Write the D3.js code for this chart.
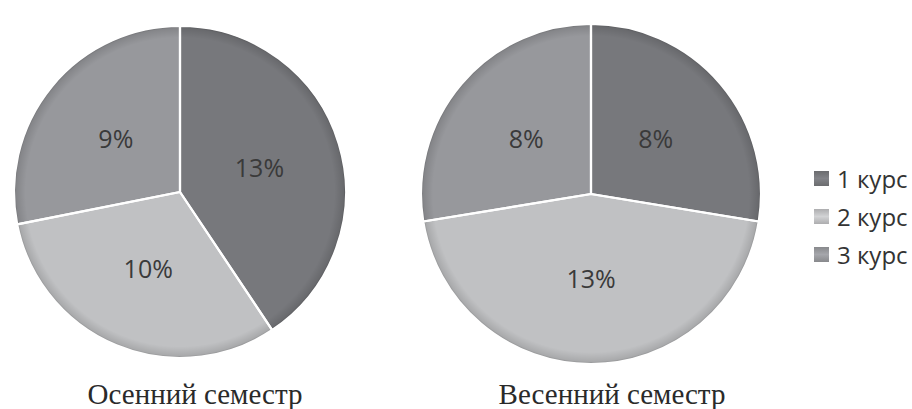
<!DOCTYPE html>
<html>
<head>
<meta charset="utf-8">
<script src="https://cdn.jsdelivr.net/npm/d3@7"></script>
<style>
  html, body { margin: 0; padding: 0; background: #fff; }
  svg { display: block; }
</style>
</head>
<body>
<svg id="chart" width="912" height="409"></svg>
<script>
// Share of students by year of study, per semester (%)
const courses = ["1 курс", "2 курс", "3 курс"];
const autumnValues = [13, 10, 9];
const springValues = [8, 13, 8];
const semesterTitles = ["Осенний семестр", "Весенний семестр"];
const sliceColors = ["#77787c", "#c0c1c3", "#97989c"];

const svg = d3.select("#chart");
const defs = svg.append("defs");

// Darkening toward the rim for a soft bevelled look
const rim = defs.append("radialGradient").attr("id", "rimShade")
  .attr("cx", "50%").attr("cy", "50%").attr("r", "50%");
rim.append("stop").attr("offset", "0%").attr("stop-color", "#000").attr("stop-opacity", 0);
rim.append("stop").attr("offset", "93%").attr("stop-color", "#000").attr("stop-opacity", 0);
rim.append("stop").attr("offset", "98.5%").attr("stop-color", "#000").attr("stop-opacity", 0.12);
rim.append("stop").attr("offset", "100%").attr("stop-color", "#000").attr("stop-opacity", 0.3);

// Legend swatch gradient
courses.forEach((c, i) => {
  const g = defs.append("linearGradient").attr("id", "sw" + i)
    .attr("x1", 0).attr("y1", 0).attr("x2", 0).attr("y2", 1);
  g.append("stop").attr("offset", "0%").attr("stop-color", d3.color(sliceColors[i]).darker(0.3));
  g.append("stop").attr("offset", "50%").attr("stop-color", d3.color(sliceColors[i]).brighter(0.25));
  g.append("stop").attr("offset", "100%").attr("stop-color", d3.color(sliceColors[i]).darker(0.3));
});

const color = d3.scaleOrdinal().domain(courses).range(sliceColors);

const pie = d3.pie().sort(null).value(d => d.value).startAngle(0).endAngle(2 * Math.PI);

const charts = [
  { values: autumnValues, title: semesterTitles[0], cx: 180, cy: 192, r: 166, tx: 195 },
  { values: springValues, title: semesterTitles[1], cx: 591, cy: 194, r: 170, tx: 612 }
];

charts.forEach(ch => {
  const data = courses.map((c, i) => ({ course: c, value: ch.values[i] }));
  const arcs = pie(data);
  const arc = d3.arc().innerRadius(0).outerRadius(ch.r);
  const g = svg.append("g").attr("transform", `translate(${ch.cx},${ch.cy})`);

  g.selectAll("path.slice").data(arcs).enter().append("path")
    .attr("class", "slice")
    .attr("d", arc)
    .attr("fill", d => color(d.data.course));

  // rim shading over the whole disc
  g.append("circle").attr("r", ch.r).attr("fill", "url(#rimShade)");

  // separators between slices
  g.selectAll("path.sep").data(arcs).enter().append("path")
    .attr("class", "sep")
    .attr("d", arc)
    .attr("fill", "none")
    .attr("stroke", "#fff")
    .attr("stroke-width", 2.2)
    .attr("stroke-linejoin", "round");
  g.append("circle").attr("r", ch.r + 1).attr("fill", "none")
    .attr("stroke", "#fff").attr("stroke-width", 2.2);

  g.selectAll("text.lbl").data(arcs).enter().append("text")
    .attr("class", "lbl")
    .attr("transform", d => `translate(${arc.centroid(d)})`)
    .attr("text-anchor", "middle")
    .attr("dy", "0.36em")
    .attr("font-family", "'Open Sans', sans-serif")
    .attr("font-size", 25)
    .attr("fill", "#3a3a3a")
    .text(d => d.data.value + "%");

  svg.append("text")
    .attr("x", ch.tx).attr("y", 404)
    .attr("text-anchor", "middle")
    .attr("font-family", "'Liberation Serif', 'Times New Roman', serif")
    .attr("font-size", 29)
    .attr("fill", "#2a2a2a")
    .text(ch.title);
});

// Legend
const legend = svg.append("g").attr("transform", "translate(814,171)");
const item = legend.selectAll("g").data(courses).enter().append("g")
  .attr("transform", (d, i) => `translate(0,${i * 38})`);
item.append("rect").attr("width", 15).attr("height", 15)
  .attr("fill", (d, i) => `url(#sw${i})`);
item.append("text").attr("x", 23).attr("y", 8).attr("dy", "0.36em")
  .attr("font-family", "'Open Sans', sans-serif")
  .attr("font-size", 24)
  .attr("fill", "#333")
  .text(d => d);
</script>
</body>
</html>
